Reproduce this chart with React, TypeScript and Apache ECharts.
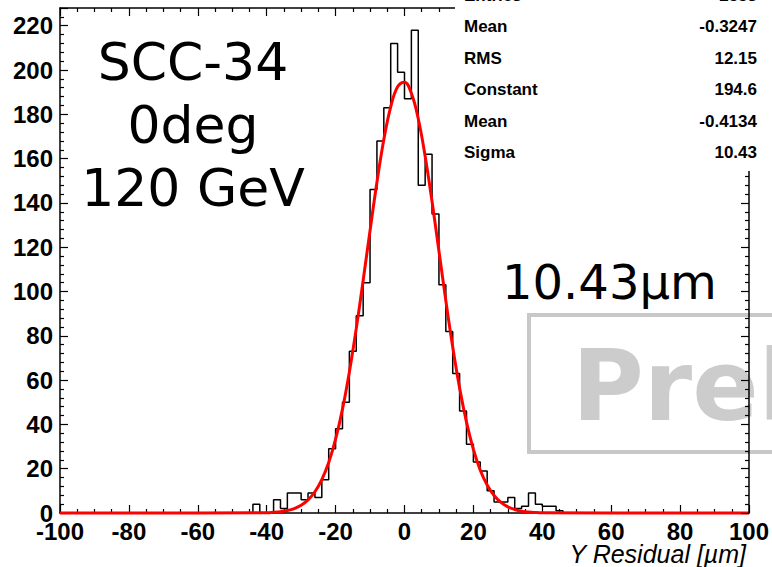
import React, { useEffect, useRef } from "react";
import * as echarts from "echarts";

// Histogram: bin counts from -46 to 46 in bins of width 2 (zero elsewhere)
const binStart = -46;
const binWidth = 2;
const counts = [
  0, 4, 0, 0, 6, 2, 9, 9, 6, 9, 7, 15, 29, 38, 50, 73, 89, 104, 146, 168, 183, 212, 199,
  187, 218, 148, 162, 135, 103, 82, 63, 46, 31, 23, 19, 10, 5, 5, 7, 2, 3, 9, 4, 3, 3, 1,
];
const xRange = [-100, 100];
const yRange = [0, 228];

// Points
const fitX = [
  -100, -40, -38, -36, -34, -32, -30, -28, -26, -24, -22, -20, -18, -16, -14, -12, -10, -8, -6, -4, -2,
  0, 2, 4, 6, 8, 10, 12, 14, 16, 18, 20, 22, 24, 26, 28, 30, 32, 34, 36, 38, 40, 100,
];
const fitY = [
  0, 0.1, 0.3, 0.6, 1.1, 2, 3.5, 5.9, 9.6, 15.1, 22.8, 33.3, 46.9, 63.7, 83.3, 105, 127.5, 149.3, 168.6,
  183.4, 192.4, 194.5, 189.5, 178, 161.1, 140.6, 118.3, 95.9, 74.9, 56.4, 41, 28.7, 19.3, 12.6,
  7.9, 4.8, 2.8, 1.6, 0.8, 0.4, 0.2, 0.1, 0,
];

const statLabels = ["Entries", "Mean", "RMS", "Constant", "Mean", "Sigma"];
const statValues = ["2553", "-0.3247", "12.15", "194.6", "-0.4134", "10.43"];
const infoLines = ["SCC-34", "0deg", "120 GeV"];
const resolutionText = "10.43\u00b5m";
const axisTitle = "Y Residual [\u00b5m]";

export default function App() {
  const ref = useRef<HTMLDivElement>(null);
  useEffect(() => {
    if (!ref.current) return;
    const chart = echarts.init(ref.current, null, { renderer: "svg" });

    const histPts: number[][] = [[xRange[0], 0], [binStart, 0]];
    counts.forEach((c, i) => {
      const lo = binStart + i * binWidth;
      histPts.push([lo, c], [lo + binWidth, c]);
    });
    histPts.push([binStart + counts.length * binWidth, 0], [xRange[1], 0]);
    const fitPts = fitX.map((x, i) => [x, fitY[i]]);

    const font = "Liberation Sans, Arial, Helvetica, sans-serif";
    const axisLine = { show: true, onZero: false, lineStyle: { color: "#000", width: 1.5 } };
    const mk = (isX: boolean, pos: string, labels: boolean) => ({
      type: "value",
      position: pos,
      min: isX ? xRange[0] : yRange[0],
      max: isX ? xRange[1] : yRange[1],
      interval: 20,
      z: pos === "right" || pos === "top" ? 5 : 0,
      axisLine,
      axisTick: { show: true, inside: true, length: 8, lineStyle: { color: "#000", width: 1.2 } },
      minorTick: {
        show: true,
        splitNumber: isX ? 4 : 5,
        length: 4,
        lineStyle: { color: "#000", width: 1.2 },
      },
      splitLine: { show: false },
      minorSplitLine: { show: false },
      axisLabel: labels
        ? {
            show: true,
            fontSize: 24,
            fontWeight: "bold",
            color: "#000",
            fontFamily: font,
            margin: isX ? 6 : 7,
            showMaxLabel: isX ? true : false,
          }
        : { show: false },
    });

    const graphics: any[] = [];
    // Preliminary box
    graphics.push({
      type: "rect",
      z: 1,
      shape: { x: 529, y: 315, width: 300, height: 137 },
      style: { fill: "none", stroke: "#c8c8c8", lineWidth: 4 },
    });
    graphics.push({
      type: "text",
      z: 1,
      x: 572,
      y: 386,
      style: {
        text: "Preliminary",
        fontSize: 98,
        fontWeight: "bold",
        fontFamily: "DejaVu Sans",
        fill: "#cccccc",
        verticalAlign: "middle",
        align: "left",
      },
    });
    // Stats box
    graphics.push({
      type: "rect",
      z: 20,
      shape: { x: 455, y: -5, width: 330, height: 176 },
      style: { fill: "#ffffff", stroke: "none" },
    });
    statLabels.forEach((lab, i) => {
      const y = 26.5 + (i - 1) * 31.5;
      graphics.push({
        type: "text",
        z: 21,
        x: 464,
        y,
        style: {
          text: lab,
          fontSize: 17,
          fontWeight: "bold",
          fontFamily: font,
          fill: "#000",
          verticalAlign: "middle",
          align: "left",
        },
      });
      graphics.push({
        type: "text",
        z: 21,
        x: 757,
        y,
        style: {
          text: statValues[i],
          fontSize: 17,
          fontWeight: "bold",
          fontFamily: font,
          fill: "#000",
          verticalAlign: "middle",
          align: "right",
        },
      });
    });
    infoLines.forEach((t, i) => {
      graphics.push({
        type: "text",
        z: 10,
        x: 193,
        y: 62 + i * 63,
        style: {
          text: t,
          fontSize: 52,
          fontFamily: "DejaVu Sans",
          fill: "#000",
          align: "center",
          verticalAlign: "middle",
        },
      });
    });
    graphics.push({
      type: "text",
      z: 10,
      x: 502,
      y: 282,
      style: {
        text: resolutionText,
        fontSize: 48,
        fontFamily: "DejaVu Sans",
        fill: "#000",
        align: "left",
        verticalAlign: "middle",
      },
    });
    graphics.push({
      type: "text",
      z: 10,
      x: 746,
      y: 554,
      style: {
        text: axisTitle,
        fontSize: 25,
        fontStyle: "italic",
        fontFamily: font,
        fill: "#000",
        align: "right",
        verticalAlign: "middle",
      },
    });

    chart.setOption({
      animation: false,
      backgroundColor: "#ffffff",
      grid: { left: 60, right: 23, top: 8, bottom: 54, containLabel: false },
      xAxis: [mk(true, "bottom", true), mk(true, "top", false)],
      yAxis: [mk(false, "left", true), mk(false, "right", false)],
      series: [
        {
          type: "line",
          xAxisIndex: 0,
          yAxisIndex: 0,
          data: histPts,
          symbol: "none",
          clip: false,
          z: 2,
          lineStyle: { color: "#000", width: 1.5 },
        },
        {
          type: "line",
          xAxisIndex: 0,
          yAxisIndex: 0,
          data: fitPts,
          symbol: "none",
          smooth: 0.4,
          clip: false,
          z: 3,
          lineStyle: { color: "#ff0000", width: 3 },
        },
      ],
      graphic: { elements: graphics },
    });
    return () => chart.dispose();
  }, []);
  return (
    <div
      ref={ref}
      style={{ position: "absolute", left: 0, top: 0, width: 772, height: 567, overflow: "hidden" }}
    />
  );
}
